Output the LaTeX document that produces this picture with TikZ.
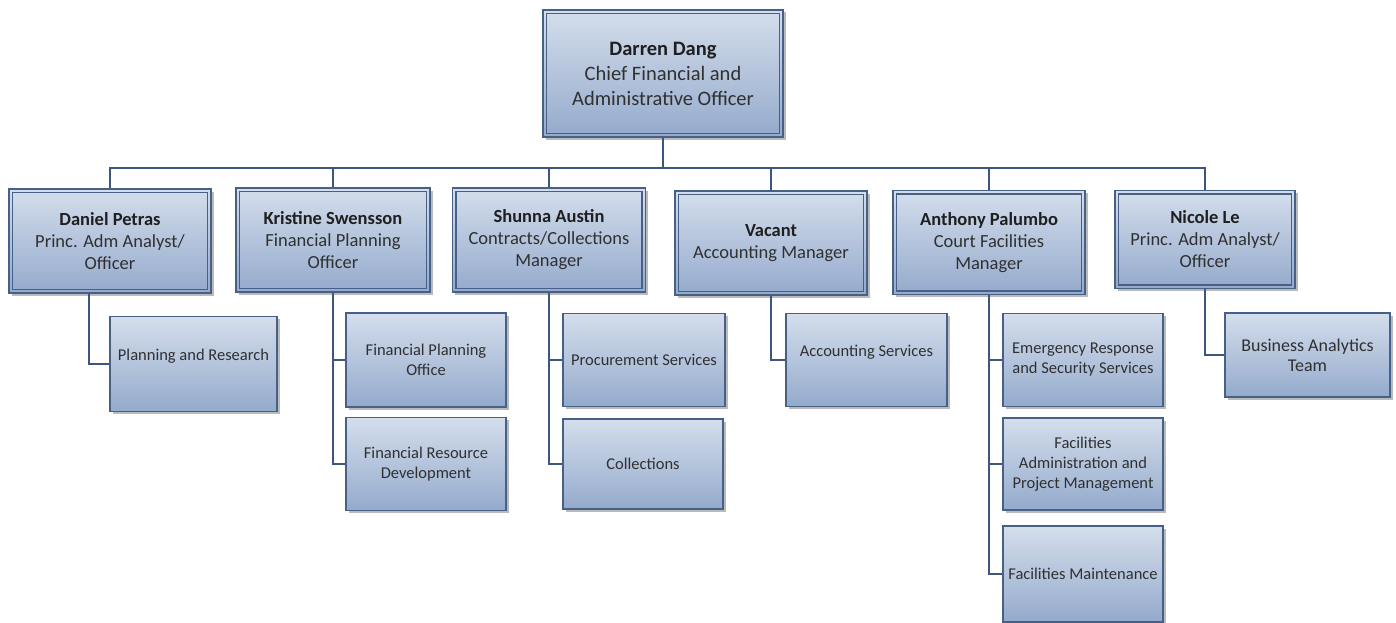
\documentclass[tikz,border=0pt]{standalone}
\usepackage{fontspec}
\setmainfont{Carlito}
\usetikzlibrary{shadows}

\definecolor{boxtop}{RGB}{212,222,236}
\definecolor{boxbot}{RGB}{148,170,204}
\definecolor{boxline}{RGB}{70,96,136}
\definecolor{wire}{RGB}{60,86,128}
\definecolor{ink}{RGB}{48,48,48}

\newcommand\pname[1]{{\bfseries\color{black!88}#1}}

\tikzset{
  card/.style={draw=boxline, line width=1.3pt, top color=boxtop, bottom color=boxbot,
    align=center, text=ink, inner sep=2pt,
    drop shadow={shadow xshift=2.5pt, shadow yshift=-2.5pt, opacity=0.45, fill=black!60}},
  lead/.style={card, font=\fontsize{18.5}{22}\selectfont,
    path picture={\draw[boxline, line width=1.1pt]
      ([shift={(3.5pt,-3.5pt)}]path picture bounding box.north west) rectangle
      ([shift={(-3.5pt,3.5pt)}]path picture bounding box.south east);}},
  unit/.style={card, font=\fontsize{16.5}{20}\selectfont},
  conn/.style={draw=wire, line width=2pt},
}

\begin{document}
\begin{tikzpicture}[x=1pt, y=-1pt]
\useasboundingbox (0,0) rectangle (1396,623);

% head of the department
\node[lead, font=\fontsize{20.5}{25}\selectfont, minimum width=240pt, minimum height=127pt]
  (cfo) at (663,73.5) {\pname{Darren Dang}\\Chief Financial and\\Administrative Officer};

% direct reports
\node[lead, minimum width=202pt, minimum height=104pt] (dan) at (110,241)
  {\pname{Daniel Petras}\\Princ. Adm Analyst/\\Officer};
\node[lead, minimum width=194pt, minimum height=104pt] (kri) at (333,240)
  {\pname{Kristine Swensson}\\Financial Planning\\Officer};
\node[lead, minimum width=193pt, minimum height=104pt] (shu) at (549,240)
  {\pname{Shunna Austin}\\Contracts/Collections\\Manager};
\node[lead, minimum width=192pt, minimum height=104pt] (vac) at (771,243)
  {\pname{Vacant}\\Accounting Manager};
\node[lead, minimum width=192pt, minimum height=104pt] (ant) at (989,242.5)
  {\pname{Anthony Palumbo}\\Court Facilities\\Manager};
\node[lead, minimum width=180pt, minimum height=98pt] (nic) at (1205,239.5)
  {\pname{Nicole Le}\\Princ. Adm Analyst/\\Officer};

% units
\node[unit, minimum width=167pt, minimum height=95pt] (plan) at (193.5,364)
  {\raisebox{18pt}{Planning and Research}};
\node[unit, minimum width=160pt, minimum height=94pt] (fpo) at (426,360)
  {Financial Planning\\Office};
\node[unit, minimum width=160pt, minimum height=93pt] (frd) at (426,464)
  {Financial Resource\\Development};
\node[unit, minimum width=162pt, minimum height=93pt] (proc) at (644,360)
  {Procurement Services};
\node[unit, minimum width=160pt, minimum height=90pt] (coll) at (643,464)
  {Collections};
\node[unit, minimum width=161pt, minimum height=93pt] (acct) at (866.5,360)
  {\raisebox{18pt}{Accounting Services}};
\node[unit, minimum width=160pt, minimum height=93pt] (emer) at (1083,360)
  {Emergency Response\\and Security Services};
\node[unit, minimum width=160pt, minimum height=92pt] (fadm) at (1083,464)
  {Facilities\\Administration and\\Project Management};
\node[unit, minimum width=160pt, minimum height=96pt] (fmnt) at (1083,574)
  {Facilities Maintenance};
\node[unit, font=\fontsize{18}{20}\selectfont, minimum width=165pt, minimum height=84pt]
  (bat) at (1307.5,355) {Business Analytics\\Team};

% connectors
\coordinate (bus) at (663,168);
\draw[conn] (cfo.south) -- (bus);
\draw[conn] (dan.north) |- (nic.north |- bus) -- (nic.north);
\foreach \n in {kri,shu,vac,ant}
  \draw[conn] (\n.north) -- (\n.north |- bus);

\draw[conn] ([xshift=-21pt]dan.south) |- (plan.west);
\draw[conn] (kri.south) |- (fpo.west);
\draw[conn] (kri.south) |- (frd.west);
\draw[conn] (shu.south) |- (proc.west);
\draw[conn] (shu.south) |- (coll.west);
\draw[conn] (vac.south) |- (acct.west);
\draw[conn] (ant.south) |- (emer.west);
\draw[conn] (ant.south) |- (fadm.west);
\draw[conn] (ant.south) |- (fmnt.west);
\draw[conn] (nic.south) |- (bat.west);
\end{tikzpicture}
\end{document}
